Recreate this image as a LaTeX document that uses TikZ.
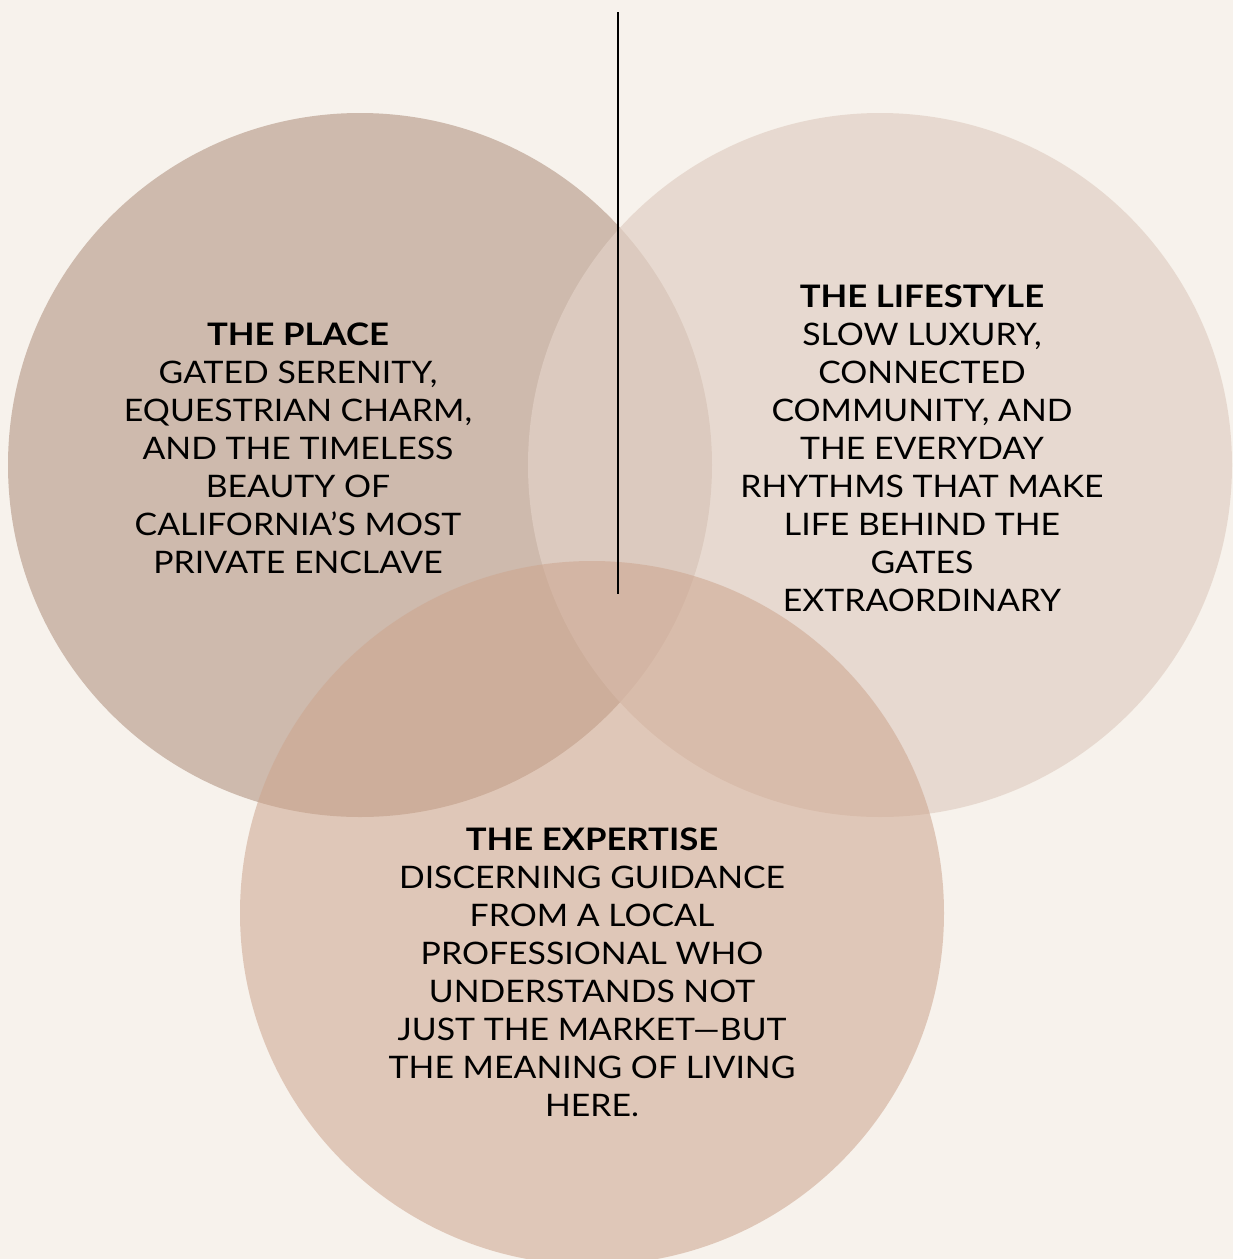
\documentclass[tikz,border=0pt]{standalone}
\usepackage{fontspec}
\setmainfont{Lato}[FakeStretch=1.09, BoldFeatures={FakeStretch=1.12}]
\usepackage{tikz}
\definecolor{creme}{RGB}{247,242,236}
\definecolor{taupe}{RGB}{206,186,173}
\definecolor{sable}{RGB}{226,209,198}
\definecolor{rose}{RGB}{205,165,142}
\tikzset{
  bloc/.style={align=center, font=\fontsize{31}{38}\selectfont, inner sep=0pt}
}

\begin{document}
\begin{tikzpicture}[x=1pt,y=-1pt]
\fill [creme] (0,0) rectangle (1233,1259);
\useasboundingbox (0,0) rectangle (1233,1259);
\clip (0,0) rectangle (1233,1259);
% les trois cercles
\fill [taupe] (360,465) circle (352);
\fill [sable, opacity=0.73] (880,465) circle (352);
\fill [rose, opacity=0.55] (592,913) circle (352);
% le trait vertical
\coordinate (haut) at (618,12);
\coordinate (bas) at (618,594);
\draw [line width=2pt] (haut) -- (bas);
% les textes
\node [bloc] (place) at (298,448) {\textbf{THE PLACE}\\GATED SERENITY,\\EQUESTRIAN CHARM,\\AND THE TIMELESS\\BEAUTY OF\\CALIFORNIA’S MOST\\PRIVATE ENCLAVE};
\node [bloc] (lifestyle) at (922,448) {\textbf{THE LIFESTYLE}\\SLOW LUXURY,\\CONNECTED\\COMMUNITY, AND\\THE EVERYDAY\\RHYTHMS THAT MAKE\\LIFE BEHIND THE\\GATES\\EXTRAORDINARY};
\node [bloc] (expertise) at (592,972) {\textbf{THE EXPERTISE}\\DISCERNING GUIDANCE\\FROM A LOCAL\\PROFESSIONAL WHO\\UNDERSTANDS NOT\\JUST THE MARKET—BUT\\THE MEANING OF LIVING\\HERE.};
\end{tikzpicture}
\end{document}
